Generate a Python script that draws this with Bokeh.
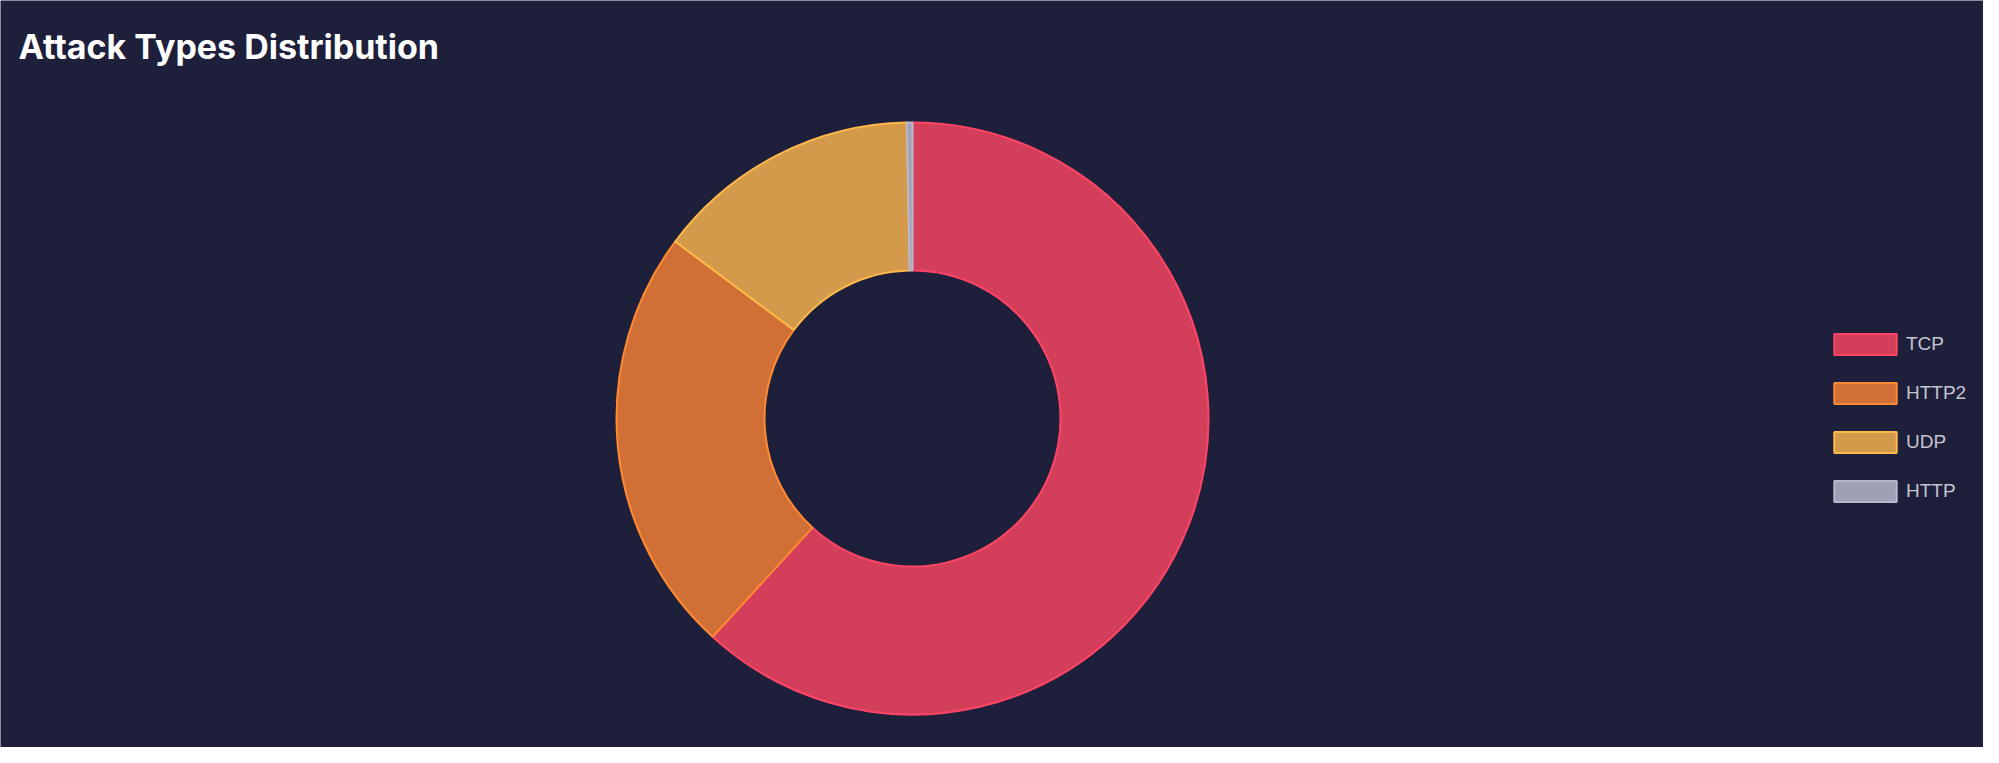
import math
from bokeh.plotting import figure
from bokeh.models import ColumnDataSource, Legend, LegendItem, Label, Range1d
from bokeh.embed import file_html
from bokeh.resources import INLINE

categories = ["TCP", "HTTP2", "UDP", "HTTP"]
values = [618, 234, 145, 3]
line_colors = ["#ff4565", "#ff8a33", "#ffb84a", "#b8b8cc"]
fill_colors = ["#d33f5b", "#d07036", "#d39a4c", "#a0a0b4"]

BG = "#1e1f3a"
W, H = 1983, 747

total = float(sum(values))
starts, ends = [], []
acc = 0.0
for v in values:
    t1 = acc / total * 2 * math.pi
    acc += v
    t2 = acc / total * 2 * math.pi
    # clockwise from 12 o'clock -> bokeh angle
    starts.append(math.pi / 2 - t1)
    ends.append(math.pi / 2 - t2)

src = ColumnDataSource(dict(cat=categories, start=starts, end=ends,
                            fill=fill_colors, line=line_colors,
                            x=[912] * 4, y=[329] * 4))

p = figure(width=W, height=H, output_backend="svg", toolbar_location=None,
           x_range=Range1d(0, W), y_range=Range1d(0, H),
           min_border=0, background_fill_color=BG, border_fill_color=BG,
           outline_line_color=None)
p.axis.visible = False
p.grid.visible = False

r = p.annular_wedge(x="x", y="y", inner_radius=148, outer_radius=296,
                    start_angle="start", end_angle="end", direction="clock",
                    fill_color="fill", line_color="line", line_width=2,
                    source=src)

items = [LegendItem(label=c, renderers=[r], index=i) for i, c in enumerate(categories)]
legend = Legend(items=items, location=(1826, 243), orientation="vertical",
                glyph_width=78, glyph_height=26, label_height=26,
                spacing=23, padding=0, margin=0, label_standoff=2,
                label_text_font="Liberation Sans", label_text_font_size="19px",
                label_text_color="#c4c4d0", background_fill_alpha=0,
                border_line_color=None)
p.add_layout(legend, "center")

title = Label(x=18, y=701, x_units="screen", y_units="screen",
              text="Attack Types Distribution", text_font="Inter",
              text_font_style="bold", text_font_size="34px",
              text_color="#ffffff", text_baseline="alphabetic")
p.add_layout(title)

open("out.html", "w").write(file_html(p, INLINE))
